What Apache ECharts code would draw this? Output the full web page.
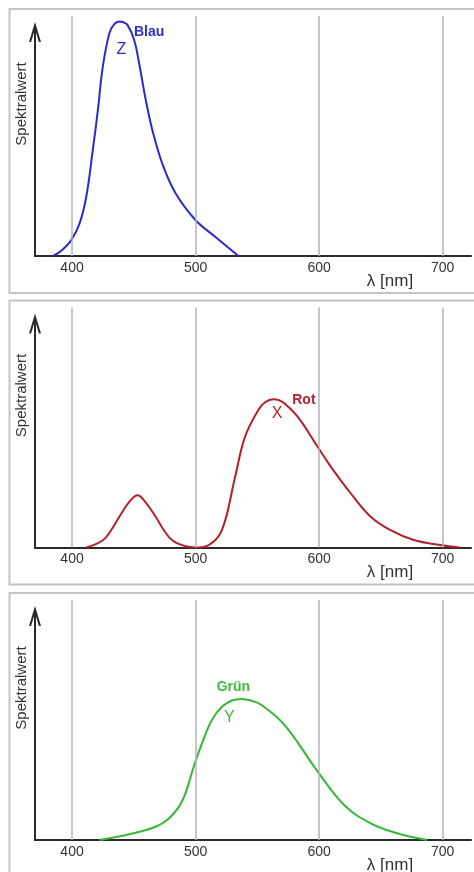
<!DOCTYPE html>
<html><head><meta charset="utf-8">
<script src="https://cdn.jsdelivr.net/npm/echarts@6/dist/echarts.min.js"></script>
<style>html,body{margin:0;padding:0;background:#fff}#c{width:474px;height:872px}</style>
</head><body><div id="c"></div>
<script>
// wavelength ticks (nm)
const tickLabels = [400, 500, 600, 700];
// Z (Blau) spectral curve: [lambda nm, relative value]
const blauZ = [[384.7,0],[392,0.025],[399.5,0.067],[406.1,0.136],[411.5,0.247],[416.8,0.442],[420.9,0.608],[424.9,0.789],[430.2,0.928],[434,0.965],[438.3,0.977],[441.5,0.974],[445,0.962],[450.3,0.9],[454.3,0.803],[459.7,0.65],[465,0.525],[473,0.386],[483.8,0.261],[499.9,0.15],[515.9,0.08],[534.7,0]];
// X (Rot)
const rotX = [[411.5,0],[424.9,0.03],[431.6,0.072],[438.3,0.128],[446.3,0.19],[453,0.218],[459.7,0.187],[467.7,0.128],[474.4,0.072],[481.1,0.03],[491.8,0.005],[499.9,0],[510.6,0.01],[521.3,0.072],[532,0.294],[540,0.461],[550.7,0.572],[556.5,0.606],[562.8,0.618],[567.5,0.614],[572.1,0.6],[582.8,0.544],[598.9,0.419],[609.6,0.336],[625.7,0.225],[641.8,0.128],[657.8,0.072],[676.6,0.031],[698,0.01],[714,0]];
// Y (Grün)
const gruenY = [[422.2,0],[446.3,0.024],[467.7,0.055],[478.4,0.09],[486.5,0.138],[491.8,0.194],[498.5,0.305],[505.2,0.403],[513.2,0.5],[521.3,0.555],[529,0.58],[537.3,0.5875],[545,0.581],[553.4,0.5625],[572.1,0.479],[598.9,0.285],[620.3,0.146],[641.8,0.069],[663.2,0.028],[687.3,0]];
// curve names and letters with anchor coordinates [lambda, value]
const panelNames = ['Blau', 'Rot', 'Grün'];
const panelLetters = ['Z', 'X', 'Y'];
const nameAnchors = [[462.4,0.933],[587.7,0.614],[530.6,0.6375]];
const letterAnchors = [[439.9,0.858],[566,0.56],[527.4,0.508]];
const colors = ['#2b2bcc', '#b3202a', '#36b836'];
const labelColors = ['#2f2fc8', '#b32530', '#3cbc3c'];
const curves = [blauZ, rotX, gruenY];
const yTitle = 'Spektralwert';
const xTitle = 'λ [nm]';

const tops = [16, 307.5, 600];
const H = 240;
const font = 'Liberation Sans, Arial, sans-serif';
const arrowPath = 'path://M6,0 L12,20 L9.9,20 L7,10.3 L7,20 L5,20 L5,10.3 L2.1,20 L0,20 Z';

const grid = [], xAxis = [], yAxis = [], series = [], graphic = [];
for (let i = 0; i < 3; i++) {
  const t = tops[i];
  // panel box
  graphic.push({type:'rect', z:-10, shape:{x:9.5, y:t-7, width:480, height:284}, style:{fill:'#fff', stroke:'#c4c4c4', lineWidth:2}});
  graphic.push({type:'text', x:22, y:t+88, rotation:Math.PI/2, style:{text:yTitle, font:'15px ' + font, fill:'#333', align:'center', verticalAlign:'middle'}});
  graphic.push({type:'text', x:390, y:t+265, style:{text:xTitle, font:'17px ' + font, fill:'#333', align:'center', verticalAlign:'middle'}});
  // data grid
  grid.push({left:35, right:0, top:t, height:H});
  xAxis.push({gridIndex:2*i, type:'value', min:370, max:723, interval:10,
    axisLine:{show:true, lineStyle:{color:'#2a2a2a', width:2}}, axisTick:{show:false}, splitLine:{show:false},
    axisLabel:{show:true, margin:5, color:'#333', fontSize:14, fontFamily:font,
      formatter: v => (tickLabels.indexOf(Math.round(v)) >= 0 && Math.abs(v - Math.round(v)) < 1e-6) ? String(Math.round(v)) : ''}});
  yAxis.push({gridIndex:2*i, type:'value', min:0, max:1, show:false});
  // arrow grid (y-axis with open arrow)
  grid.push({left:35, right:0, top:t+16, height:H-16});
  xAxis.push({gridIndex:2*i+1, type:'value', min:370, max:723, show:false});
  yAxis.push({gridIndex:2*i+1, type:'value', min:0, max:1, axisLabel:{show:false}, axisTick:{show:false}, splitLine:{show:false},
    axisLine:{show:true, symbol:['none', arrowPath], symbolSize:[12,20], lineStyle:{color:'#2a2a2a', width:2}}});
  // gridlines
  series.push({type:'line', xAxisIndex:2*i, yAxisIndex:2*i, data:[], z:1, silent:true,
    markLine:{silent:true, symbol:'none', label:{show:false}, lineStyle:{color:'#b4b4b4', width:1.5, type:'solid'},
      data: tickLabels.map(v => ({xAxis:v}))}});
  // curve
  series.push({type:'line', xAxisIndex:2*i, yAxisIndex:2*i, data:curves[i], z:3, smooth:0.4, showSymbol:false, silent:true,
    lineStyle:{color:colors[i], width:2},
    markPoint:{silent:true, symbol:'rect', symbolSize:1, itemStyle:{color:'rgba(0,0,0,0)'},
      data:[
        {coord:nameAnchors[i], value:panelNames[i], label:{show:true, position:'inside', formatter:panelNames[i], color:labelColors[i], fontSize:14, fontWeight:'bold', fontFamily:font}},
        {coord:letterAnchors[i], value:panelLetters[i], label:{show:true, position:'inside', formatter:panelLetters[i], color:labelColors[i], fontSize:16, fontFamily:font}}
      ]}});
}
const chart = echarts.init(document.getElementById('c'));
chart.setOption({animation:false, backgroundColor:'#fff', grid, xAxis, yAxis, series, graphic});
</script></body></html>
